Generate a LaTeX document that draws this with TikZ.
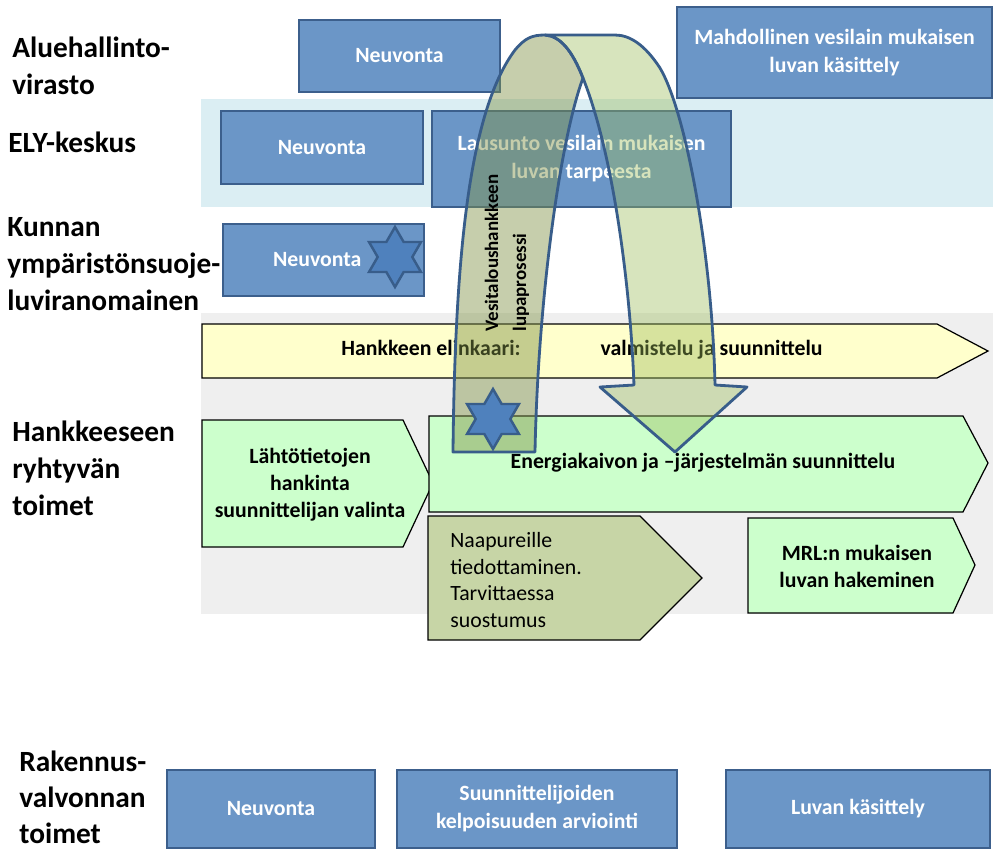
\documentclass[tikz,border=0pt]{standalone}
\usepackage{fontspec}
\setmainfont{Carlito}
\usetikzlibrary{shapes.geometric,calc}
\definecolor{boxblue}{RGB}{107,150,199}
\definecolor{boxedge}{RGB}{60,95,140}
\definecolor{elyband}{RGB}{219,238,243}
\definecolor{lifegray}{RGB}{239,239,239}
\definecolor{lightyellow}{RGB}{255,255,204}
\definecolor{lightgreen}{RGB}{204,255,204}
\definecolor{olivebox}{RGB}{199,213,166}
\definecolor{archfront}{RGB}{155,187,89}
\definecolor{archback}{RGB}{128,146,70}
\definecolor{archline}{RGB}{56,93,138}
\definecolor{starblue}{RGB}{79,129,189}

\begin{document}
\begin{tikzpicture}[x=0.02cm,y=-0.02cm,
  rowlabel/.style={anchor=north west,align=left,inner sep=0,font=\fontsize{16.7}{21}\selectfont\bfseries},
  bluebox/.style={rectangle,draw=boxedge,fill=boxblue,line width=1.6pt,text=white,align=center,inner sep=0,font=\fontsize{12.4}{15.9}\selectfont\bfseries},
  phase/.style={draw=black,line width=0.7pt},
  phasetext/.style={align=center,inner sep=0,font=\fontsize{12.4}{15.4}\selectfont\bfseries},
  hexstar/.style={star,star points=6,star point ratio=1.732,minimum size=1.2cm,inner sep=0,draw=archline,fill=starblue,line width=1.4pt},
  arch/.style={draw=archline,line width=1.6pt,line join=round}]

  \useasboundingbox (0,0) rectangle (995,850);

  % row labels
  \node[rowlabel] (ave) at (12,37) {Aluehallinto-\\virasto};
  \node[rowlabel] (ely) at (8,132) {ELY-keskus};
  \node[rowlabel] (kunta) at (7,217) {Kunnan\\ympäristönsuoje-\\luviranomainen};
  \node[rowlabel] (hanke) at (12,421) {Hankkeeseen\\ryhtyvän\\toimet};
  \node[rowlabel,font=\fontsize{16.7}{20.3}\selectfont\bfseries] (rava) at (19,751) {Rakennus-\\valvonnan\\toimet};

  % background bands
  \fill[elyband] (201,99) rectangle (993,207);
  \fill[lifegray] (201,313) rectangle (993,614);

  % authorities
  \node[bluebox,minimum width=4.02cm,minimum height=1.44cm] (aveNeuvonta) at (399.5,56) {Neuvonta};
  \node[bluebox,minimum width=6.3cm,minimum height=1.82cm] (aveLupa) at (834.5,52.5) {Mahdollinen vesilain mukaisen\\luvan käsittely};
  \node[bluebox,minimum width=4.04cm,minimum height=1.46cm] (elyNeuvonta) at (322,147.5) {Neuvonta};
  \node[bluebox,minimum width=5.98cm,minimum height=1.92cm] (elyLausunto) at (581.5,159) {Lausunto vesilain mukaisen\\luvan tarpeesta};
  \node[bluebox,minimum width=4.02cm,minimum height=1.44cm] (kuntaNeuvonta) at (323.5,260) {\hspace*{-0.25cm}Neuvonta};
  \node[hexstar] (kuntaStar) at (395,257) {};

  % project life cycle
  \draw[phase,fill=lightyellow] (202,324) -- (937,324) -- (988,351) -- (937,378) -- (202,378) -- cycle;
  \node[phasetext] (elinkaari) at (582,350) {Hankkeen elinkaari:\hspace{1.6cm}valmistelu ja suunnittelu};

  \draw[phase,fill=lightgreen] (202,420) -- (403,420) -- (433,483) -- (403,547) -- (202,547) -- cycle;
  \node[phasetext] (lahto) at (310,485) {Lähtötietojen\\hankinta\\suunnittelijan valinta};

  \draw[phase,fill=lightgreen] (429,416) -- (963,416) -- (988,463) -- (963,512) -- (429,512) -- cycle;
  \node[phasetext] (energia) at (703,463) {Energiakaivon ja –järjestelmän suunnittelu};

  \draw[phase,fill=olivebox] (428,516) -- (640,516) -- (702,578) -- (640,640) -- (428,640) -- cycle;
  \node[phasetext,align=left,anchor=west,font=\fontsize{12.4}{15.1}\selectfont] (naapuri) at (450,580) {Naapureille\\tiedottaminen.\\Tarvittaessa\\suostumus};

  \draw[phase,fill=lightgreen] (748,518) -- (953,518) -- (975,565) -- (953,613) -- (748,613) -- cycle;
  \node[phasetext] (mrl) at (857,566) {MRL:n mukaisen\\luvan hakeminen};

  % building control
  \node[bluebox,minimum width=4.16cm,minimum height=1.56cm] (ravaNeuvonta) at (271,809) {Neuvonta};
  \node[bluebox,minimum width=5.6cm,minimum height=1.56cm] (ravaKelpo) at (537,809) {Suunnittelijoiden\\kelpoisuuden arviointi};
  \node[bluebox,minimum width=5.28cm,minimum height=1.56cm] (ravaLupa) at (858,809) {Luvan käsittely};

  % permit process arch
  \draw[arch,fill=archback,fill opacity=0.45] (453,452) .. controls (455,250) and (470,110) .. (515,50)
    .. controls (525,38) and (532,35) .. (545,35)
    .. controls (560,36) and (572,50) .. (583,78)
    .. controls (560,140) and (538,300) .. (535,452) -- cycle;
  \draw[arch,fill=archfront,fill opacity=0.4] (545,35) -- (615,35)
    .. controls (630,35) and (645,45) .. (660,68)
    .. controls (685,110) and (712,250) .. (715,385)
    -- (747,387) -- (675,452) -- (600,387) -- (634,385)
    .. controls (630,280) and (612,150) .. (583,78)
    .. controls (572,50) and (560,36) .. (545,35) -- cycle;
  \node[hexstar] (lupaStar) at (493,419) {};
  \node[rotate=90,anchor=west,align=left,inner sep=0,font=\fontsize{10.8}{15.9}\selectfont\bfseries] (lupa) at (507,332) {Vesitaloushankkeen\\lupaprosessi};

\end{tikzpicture}
\end{document}
